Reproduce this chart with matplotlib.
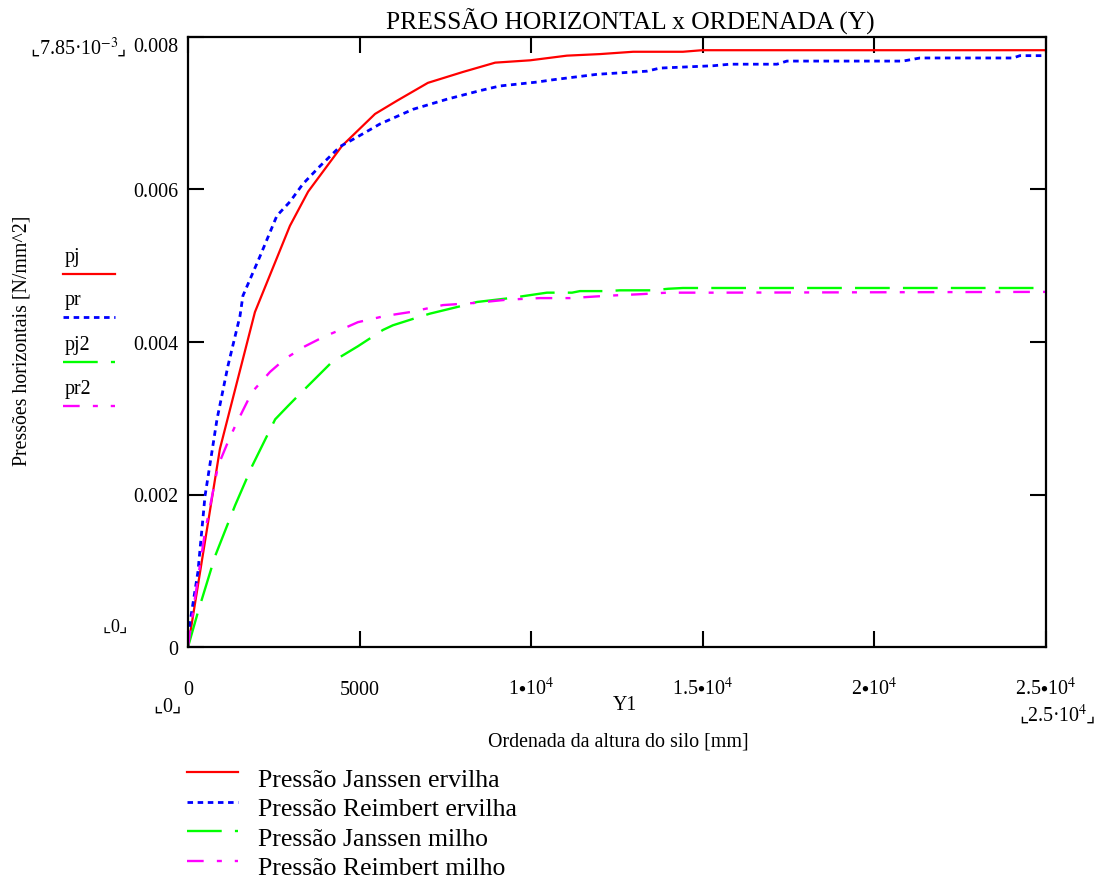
import numpy as np
import matplotlib
matplotlib.use('Agg')
import matplotlib.pyplot as plt
from matplotlib.lines import Line2D

plt.rcParams['font.family'] = ['Liberation Serif', 'DejaVu Sans']
plt.rcParams['mathtext.fontset'] = 'stix'
plt.rcParams['lines.scale_dashes'] = False

## data (Y in mm, pressure in N/mm^2)
y_pj = [0, 930, 1950, 2970, 3500, 4490, 5450, 6090, 6990, 8010, 8950, 9970,
        11040, 12000, 12970, 14420, 14980, 25000]
pj = [0, 0.00255, 0.00431, 0.00542, 0.00586, 0.00645, 0.00686, 0.00703, 0.00726,
      0.0074, 0.00752, 0.00755, 0.00761, 0.00763, 0.00766, 0.00766, 0.00768, 0.00768]

y_pr = [0, 60, 290, 495, 845, 1165, 1515, 1600, 2100, 2590, 2970, 3350, 3850, 4430,
        4920, 5590, 6560, 7550, 8510, 9090, 10170, 10640, 11920, 13370, 13750, 15300,
        15790, 17160, 17450, 20830, 21330, 24040, 24240, 25000]
pr = [0, 0.00032, 0.00097, 0.00194, 0.00293, 0.00362, 0.00426, 0.00452, 0.00503,
      0.00555, 0.00573, 0.00596, 0.00619, 0.00644, 0.00656, 0.00673, 0.00692, 0.00705,
      0.00716, 0.00722, 0.00727, 0.0073, 0.00737, 0.00741, 0.00745, 0.00748, 0.0075,
      0.0075, 0.00754, 0.00754, 0.00758, 0.00758, 0.00761, 0.00761]

y_pj2 = [0, 290, 790, 1370, 1870, 2540, 2910, 3200, 4200, 4950, 5680, 5970, 6610,
         7050, 7980, 8420, 9380, 10460, 11190, 11420, 12210, 12590, 13550, 13990,
         14420, 25000]
pj2 = [0, 0.00045, 0.00117, 0.00182, 0.00233, 0.00293, 0.0031, 0.00323, 0.00367,
       0.00387, 0.00408, 0.00414, 0.00423, 0.00429, 0.00439, 0.00444, 0.00449,
       0.00456, 0.00456, 0.00458, 0.00458, 0.00459, 0.00459, 0.00461, 0.00462, 0.00462]

y_pr2 = [0, 200, 495, 875, 1165, 1370, 1865, 2390, 2830, 3410, 3990, 4490, 4950,
         5740, 6470, 7430, 8420, 9300, 10260, 11130, 12210, 13170, 13960, 15300, 25000]
pr2 = [0, 0.00062, 0.00148, 0.00233, 0.00264, 0.00284, 0.00328, 0.00354, 0.00371,
       0.00387, 0.004, 0.00409, 0.00418, 0.00426, 0.00431, 0.0044, 0.00443, 0.00447,
       0.00449, 0.00449, 0.00452, 0.00454, 0.00456, 0.00456, 0.00457]

x_ticks = [0, 5000, 10000, 15000, 20000, 25000]
x_labels = ['0', '5000', r'1$\bullet$10$^4$', r'1.5$\bullet$10$^4$', r'2$\bullet$10$^4$', r'2.5$\bullet$10$^4$']
y_ticks = [0, 0.0019625, 0.003925, 0.0058875, 0.00785]
y_labels = ['0', '0.002', '0.004', '0.006', '0.008']

short_names = ['pj', 'pr', 'pj2', 'pr2']
long_names = ['Pressão Janssen ervilha', 'Pressão Reimbert ervilha',
              'Pressão Janssen milho', 'Pressão Reimbert milho']

styles = [dict(color='#ff0000', lw=1.6, ls='-'),
          dict(color='#0000ff', lw=2.0, dashes=(4, 3.3)),
          dict(color='#00ff00', lw=1.7, dashes=(25, 9.5)),
          dict(color='#ff00ff', lw=1.7, dashes=(12, 9.5, 3.6, 9.3))]

W, H = 1099, 879
fx = lambda px: px / W
fy = lambda py: 1 - py / H

fig = plt.figure(figsize=(W / 100, H / 100), dpi=100)
ax = fig.add_axes([fx(188), fy(648), (1046 - 188) / W, (648 - 38) / H])

for (xs, ys), st in zip([(y_pj, pj), (y_pr, pr), (y_pj2, pj2), (y_pr2, pr2)], styles):
    ax.plot(xs, ys, **st)

ax.set_xlim(0, 25000)
ax.set_ylim(0, 0.00785)
ax.set_xticks(x_ticks)
ax.set_xticklabels(x_labels)
ax.set_yticks(y_ticks)
ax.set_yticklabels(y_labels)
ax.tick_params(direction='in', length=11.5, width=1.5, top=True, right=True,
               labelsize=14.4, colors='black')
ax.tick_params(axis='y', pad=7)
ax.tick_params(axis='x', pad=34)
for lab in ax.get_xticklabels():
    lab.set_va('baseline')
ax.get_yticklabels()[-1].set_va('top')
for s in ax.spines.values():
    s.set_linewidth(1.6)

## texts
fig.text(fx(630), fy(22), 'PRESSÃO HORIZONTAL x ORDENADA (Y)', ha='center', va='center', fontsize=18.4)
fig.text(fx(22), fy(341), 'Pressões horizontais [N/mm^2]', rotation=90, ha='center', va='center', fontsize=14.3)
fig.text(fx(625), fy(705), 'Y1', ha='center', va='center', fontsize=14.4)
fig.text(fx(618), fy(742), 'Ordenada da altura do silo [mm]', ha='center', va='center', fontsize=14.4)

# limit markers, corner brackets drawn apart from the mathtext
def marker(x0, x1, base, s, size=14.4):
    fig.text(fx(x0), fy(base), '⌞', ha='right', va='baseline', fontsize=size, family='DejaVu Sans')
    fig.text(fx((x0 + x1) / 2), fy(base), s, ha='center', va='baseline', fontsize=size)
    fig.text(fx(x1), fy(base), '⌟', ha='left', va='baseline', fontsize=size, family='DejaVu Sans')

marker(40, 117, 55, '7.85·10$^{-3}$')
marker(111, 119, 632, '0', 13)
marker(163, 172, 712, '0')
marker(1029, 1086, 722, '2.5·10$^4$')

## small legend at the left
for i, (nm, st) in enumerate(zip(short_names, styles)):
    ly = [275, 318, 363, 407][i]
    fig.add_artist(Line2D([fx(63), fx(115)], [fy(ly), fy(ly)], transform=fig.transFigure, **st))
    fig.text(fx(65), fy(ly - 13), nm, ha='left', va='baseline', fontsize=14.4)

## legend below
for i, (nm, st) in enumerate(zip(long_names, styles)):
    ly = 773 + i * 29.5
    fig.add_artist(Line2D([fx(187), fx(238)], [fy(ly), fy(ly)], transform=fig.transFigure, **st))
    fig.text(fx(258), fy(ly + 14), nm, ha='left', va='baseline', fontsize=18.5)

fig.savefig('out.png', dpi=100)
